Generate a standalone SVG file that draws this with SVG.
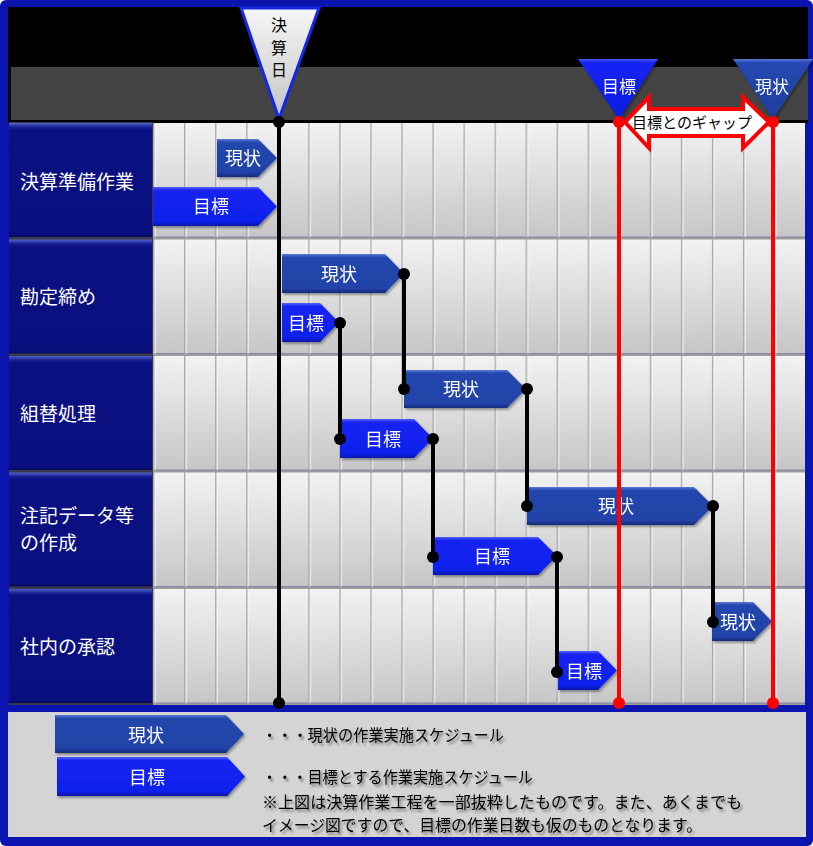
<svg xmlns="http://www.w3.org/2000/svg" width="813" height="846" viewBox="0 0 813 846">
<defs>
<style>
.t{font-family:"Noto Sans CJK JP","Noto Sans",sans-serif;}
.bt{font-family:"Noto Sans CJK JP","Noto Sans",sans-serif;font-size:18px;fill:#fff;text-anchor:middle;}
.lb{font-family:"Noto Sans CJK JP","Noto Sans",sans-serif;font-size:19px;fill:#fff;}
.lg{font-family:"Noto Sans CJK JP","Noto Sans",sans-serif;font-size:16px;fill:#000;}
.cur{fill:url(#gCur);}
.tgt{fill:url(#gTgt);}
.con{stroke:#000;stroke-width:4;fill:none;}
.dot{fill:#000;}
.red{stroke:#ff0000;stroke-width:4;fill:none;}
.rdot{fill:#ff0000;}
.lab{fill:url(#gLab);}
</style>
<linearGradient id="gCell" x1="0" y1="0" x2="0" y2="1">
<stop offset="0" stop-color="#f2f2f2"/>
<stop offset="1" stop-color="#c6c6c6"/>
</linearGradient>
<linearGradient id="gCur" x1="0" y1="0" x2="0" y2="1">
<stop offset="0" stop-color="#5a7ad8"/>
<stop offset="0.09" stop-color="#2446ad"/>
<stop offset="0.88" stop-color="#2143a8"/>
<stop offset="1" stop-color="#142c78"/>
</linearGradient>
<linearGradient id="gTgt" x1="0" y1="0" x2="0" y2="1">
<stop offset="0" stop-color="#5060ff"/>
<stop offset="0.09" stop-color="#1424f2"/>
<stop offset="0.88" stop-color="#1020ec"/>
<stop offset="1" stop-color="#0a16a8"/>
</linearGradient>
<linearGradient id="gLab" x1="0" y1="0" x2="0" y2="1">
<stop offset="0" stop-color="#5262c8"/>
<stop offset="0.035" stop-color="#1a2296"/>
<stop offset="0.06" stop-color="#0c1182"/>
<stop offset="0.97" stop-color="#0a0f80"/>
<stop offset="1" stop-color="#060a58"/>
</linearGradient>
<linearGradient id="gTri" x1="0" y1="0" x2="0" y2="1">
<stop offset="0" stop-color="#f6f6f6"/>
<stop offset="1" stop-color="#c4c4c4"/>
</linearGradient>
<linearGradient id="gTriT" x1="0" y1="0" x2="0" y2="1">
<stop offset="0" stop-color="#4858ff"/>
<stop offset="0.06" stop-color="#1424f4"/>
<stop offset="1" stop-color="#0c1ae0"/>
</linearGradient>
<linearGradient id="gTriC" x1="0" y1="0" x2="0" y2="1">
<stop offset="0" stop-color="#5a78d8"/>
<stop offset="0.06" stop-color="#2648b2"/>
<stop offset="1" stop-color="#1e3e9e"/>
</linearGradient>
<pattern id="pGrid" patternUnits="userSpaceOnUse" x="153" y="123" width="31.05" height="116.5">
<rect x="0" y="0" width="31.05" height="114" fill="url(#gCell)"/>
<rect x="0" y="114" width="31.05" height="2.5" fill="#9c9c9c"/>
<rect x="0" y="0" width="1.6" height="114" fill="#a8a8a8"/>
<rect x="1.6" y="0" width="1" height="114" fill="#fbfbfb"/>
</pattern>
<filter id="sh" x="-10%" y="-20%" width="130%" height="150%">
<feDropShadow dx="1.5" dy="2" stdDeviation="1.2" flood-color="#000" flood-opacity="0.35"/>
</filter>
<filter id="tsh" x="-5%" y="-30%" width="115%" height="170%">
<feDropShadow dx="2" dy="2.5" stdDeviation="1.3" flood-color="#000" flood-opacity="0.45"/>
</filter>
</defs>

<!-- frame and header -->
<rect x="0" y="0" width="813" height="846" rx="6" fill="#0c14b0"/>
<rect x="8" y="7" width="800" height="60" fill="#000"/>
<rect x="8" y="67" width="800" height="56" fill="#000"/>
<rect x="11" y="67" width="797" height="53" fill="#444444"/>

<!-- grid -->
<rect x="9" y="122" width="144" height="583" fill="#3a3a4e"/>
<rect x="153" y="123" width="652" height="582" fill="url(#pGrid)"/>

<!-- row labels -->
<g id="row1-label"><rect class="lab" x="9" y="123" width="143" height="114"/><text class="lb" x="20" y="189">決算準備作業</text></g>
<g id="row2-label"><rect class="lab" x="9" y="239.5" width="143" height="114"/><text class="lb" x="20" y="304">勘定締め</text></g>
<g id="row3-label"><rect class="lab" x="9" y="356" width="143" height="114"/><text class="lb" x="20" y="421">組替処理</text></g>
<g id="row4-label"><rect class="lab" x="9" y="472.5" width="143" height="114"/><text class="lb" x="20" y="523" font-size="18">注記データ等</text><text class="lb" x="20" y="550" font-size="18">の作成</text></g>
<g id="row5-label"><rect class="lab" x="9" y="589" width="143" height="114"/><text class="lb" x="20" y="654">社内の承認</text></g>

<!-- bars -->
<g id="bar-r1-cur" filter="url(#sh)"><path class="cur" d="M217 139 H258 L277 158 L258 177 H217 Z"/><text class="bt" x="243" y="164.5">現状</text></g>
<g id="bar-r1-tgt" filter="url(#sh)"><path class="tgt" d="M153 187 H258 L277 206.5 L258 226 H153 Z"/><text class="bt" x="211" y="213">目標</text></g>
<g id="bar-r2-cur" filter="url(#sh)"><path class="cur" d="M282 254 H385 L404 273.5 L385 293 H282 Z"/><text class="bt" x="339" y="280.5">現状</text></g>
<g id="bar-r2-tgt" filter="url(#sh)"><path class="tgt" d="M282 303 H320 L339 322.5 L320 342 H282 Z"/><text class="bt" x="306" y="329.5">目標</text></g>
<g id="bar-r3-cur" filter="url(#sh)"><path class="cur" d="M404 370 H507 L526 389 L507 408 H404 Z"/><text class="bt" x="461" y="396">現状</text></g>
<g id="bar-r3-tgt" filter="url(#sh)"><path class="tgt" d="M340 419 H414 L433 438.5 L414 458 H340 Z"/><text class="bt" x="383" y="445.5">目標</text></g>
<g id="bar-r4-cur" filter="url(#sh)"><path class="cur" d="M527 487 H694 L713 506 L694 525 H527 Z"/><text class="bt" x="616" y="513">現状</text></g>
<g id="bar-r4-tgt" filter="url(#sh)"><path class="tgt" d="M433 537 H538 L557 556 L538 575 H433 Z"/><text class="bt" x="492" y="563">目標</text></g>
<g id="bar-r5-cur" filter="url(#sh)"><path class="cur" d="M712 602 H753 L772 621.5 L753 641 H712 Z"/><text class="bt" x="738" y="628.5">現状</text></g>
<g id="bar-r5-tgt" filter="url(#sh)"><path class="tgt" d="M558 651 H598 L617 670.5 L598 690 H558 Z"/><text class="bt" x="584" y="677.5">目標</text></g>

<!-- connectors -->
<g id="connectors">
<line class="con" x1="404" y1="274" x2="404" y2="389"/>
<line class="con" x1="340" y1="323" x2="340" y2="439"/>
<line class="con" x1="527" y1="389" x2="527" y2="506"/>
<line class="con" x1="433" y1="439" x2="433" y2="557"/>
<line class="con" x1="713" y1="506" x2="713" y2="622"/>
<line class="con" x1="557" y1="557" x2="557" y2="672"/>
<circle class="dot" cx="404" cy="274" r="6"/><circle class="dot" cx="404" cy="389" r="6"/>
<circle class="dot" cx="340" cy="323" r="6"/><circle class="dot" cx="340" cy="439" r="6"/>
<circle class="dot" cx="527" cy="389" r="6"/><circle class="dot" cx="527" cy="506" r="6"/>
<circle class="dot" cx="433" cy="439" r="6"/><circle class="dot" cx="433" cy="557" r="6"/>
<circle class="dot" cx="713" cy="506" r="6"/><circle class="dot" cx="713" cy="622" r="6"/>
<circle class="dot" cx="557" cy="557" r="6"/><circle class="dot" cx="557" cy="672" r="6"/>
<line class="con" x1="279" y1="122" x2="279" y2="703"/>
<circle class="dot" cx="279" cy="703" r="6"/>
<line class="red" x1="619" y1="122" x2="619" y2="703"/>
<line class="red" x1="773" y1="122" x2="773" y2="703"/>
<circle class="rdot" cx="619" cy="703" r="6"/><circle class="rdot" cx="773" cy="703" r="6"/>
</g>

<!-- markers -->
<g id="kessanbi">
<path d="M241 8 L319 8 L279 119 Z" fill="url(#gTri)" stroke="#1428e6" stroke-width="3" stroke-linejoin="miter"/>
<text class="t" x="279" y="31" font-size="16" text-anchor="middle">決</text>
<text class="t" x="279" y="54" font-size="16" text-anchor="middle">算</text>
<text class="t" x="279" y="76" font-size="16" text-anchor="middle">日</text>
</g>
<circle class="dot" cx="279" cy="122" r="6"/>
<g id="marker-tgt" filter="url(#sh)">
<path d="M578 59 L658 59 L619 119 Z" fill="url(#gTriT)"/>
<text class="t" x="619" y="92.5" font-size="17" fill="#fff" text-anchor="middle">目標</text>
</g>
<g id="marker-cur" filter="url(#sh)">
<path d="M733 59 L813 59 L773 119 Z" fill="url(#gTriC)"/>
<text class="t" x="772" y="92.5" font-size="17" fill="#fff" text-anchor="middle">現状</text>
</g>
<circle class="rdot" cx="619" cy="122" r="6"/>
<circle class="rdot" cx="773" cy="122" r="6"/>

<g id="gap-arrow">
<path d="M625 122 L649 97 L649 109 L743 109 L743 97 L769 122 L743 148 L743 136 L649 136 L649 148 Z" fill="#fff" stroke="#ff0000" stroke-width="4" stroke-linejoin="miter"/>
<text class="t" x="692" y="128" font-size="15" fill="#000" text-anchor="middle">目標とのギャップ</text>
</g>

<!-- legend -->
<rect x="8" y="712" width="798" height="125" fill="#d4d4d4"/>
<g id="legend-cur" filter="url(#sh)"><path class="cur" d="M55 715 H226 L244 734 L226 753 H55 Z"/><text class="bt" x="146" y="741.5">現状</text></g>
<g id="legend-tgt" filter="url(#sh)"><path class="tgt" d="M57 757 H227 L245 776.5 L227 796 H57 Z"/><text class="bt" x="147" y="783.5">目標</text></g>
<g id="legend-text" filter="url(#tsh)">
<text class="lg" x="262" y="741" textLength="242" lengthAdjust="spacingAndGlyphs">・・・現状の作業実施スケジュール</text>
<text class="lg" x="262" y="783" textLength="271" lengthAdjust="spacingAndGlyphs">・・・目標とする作業実施スケジュール</text>
<text class="lg" x="262" y="808" textLength="480" lengthAdjust="spacingAndGlyphs">※上図は決算作業工程を一部抜粋したものです。また、あくまでも</text>
<text class="lg" x="262" y="831" textLength="440" lengthAdjust="spacingAndGlyphs">イメージ図ですので、目標の作業日数も仮のものとなります。</text>
</g>
</svg>
